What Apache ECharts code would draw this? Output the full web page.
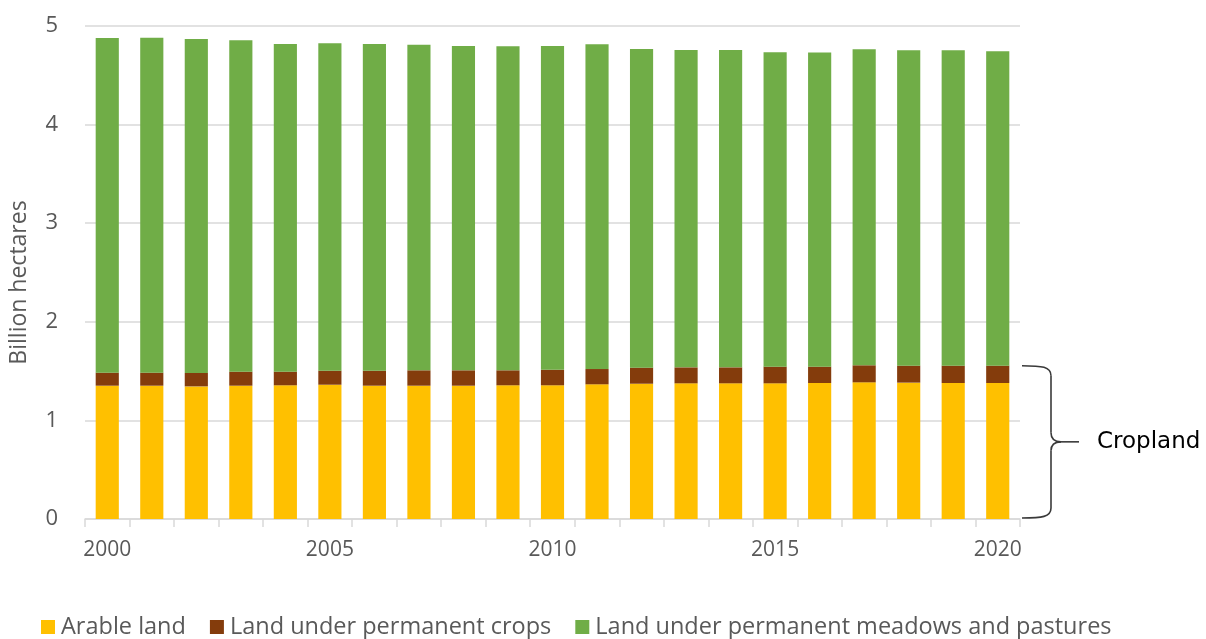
<!DOCTYPE html>
<html>
<head>
<meta charset="utf-8">
<title>Agricultural land use, 2000–2020</title>
<script src="https://cdn.jsdelivr.net/npm/echarts@6/dist/echarts.min.js"></script>
<style>
  html, body { margin: 0; padding: 0; background: #ffffff; }
  #chart { width: 1206px; height: 639px; }
</style>
</head>
<body>
<div id="chart"></div>
<script>
// Years on the category axis
const years = ['2000','2001','2002','2003','2004','2005','2006','2007','2008','2009','2010',
               '2011','2012','2013','2014','2015','2016','2017','2018','2019','2020'];

// Billion hectares per land-use class
const arableLand = [1.352,1.352,1.345,1.352,1.356,1.362,1.352,1.352,1.352,1.356,1.356,
                    1.366,1.372,1.376,1.376,1.376,1.379,1.386,1.383,1.379,1.379];
const permanentCrops = [0.132,0.132,0.136,0.142,0.138,0.142,0.152,0.156,0.156,0.152,0.158,
                        0.155,0.163,0.162,0.162,0.169,0.166,0.173,0.172,0.176,0.176];
const meadowsPastures = [3.394,3.397,3.387,3.361,3.323,3.320,3.313,3.302,3.289,3.286,3.283,
                         3.293,3.232,3.219,3.219,3.188,3.185,3.205,3.198,3.198,3.188];

const seriesNames = ['Arable land', 'Land under permanent crops', 'Land under permanent meadows and pastures'];
const yAxisTitle = 'Billion hectares';
const bracketLabel = 'Cropland';

const textGrey = '#595959';
const gridGrey = '#d9d9d9';
const font = '"Open Sans", "Noto Sans", sans-serif';

const gridLeft = 85, gridRight = 186, gridTop = 26, gridBottom = 120;

const chart = echarts.init(document.getElementById('chart'), null, { renderer: 'canvas' });

chart.setOption({
  animation: false,
  backgroundColor: '#ffffff',
  grid: { left: gridLeft, right: gridRight, top: gridTop, bottom: gridBottom, containLabel: false },
  legend: {
    left: 36,
    top: 610,
    itemWidth: 14,
    itemHeight: 14,
    itemGap: 24,
    icon: 'rect',
    textStyle: { color: textGrey, fontSize: 23.5, fontFamily: font, padding: [0, 0, 0, 1] },
    data: seriesNames
  },
  xAxis: {
    type: 'category',
    data: years,
    boundaryGap: true,
    axisLine: { show: true, lineStyle: { color: gridGrey, width: 1.5 } },
    axisTick: { show: true, alignWithLabel: false, interval: 0, length: 8, lineStyle: { color: gridGrey, width: 1.5 } },
    axisLabel: { interval: 4, color: textGrey, fontSize: 21, fontFamily: font, margin: 21 },
    splitLine: { show: false }
  },
  yAxis: {
    type: 'value',
    min: 0,
    max: 5,
    interval: 1,
    name: yAxisTitle,
    nameLocation: 'middle',
    nameRotate: 90,
    nameGap: 54,
    nameTextStyle: { color: textGrey, fontSize: 23, fontFamily: font, padding: [0, 20, 0, 0] },
    axisLine: { show: false },
    axisTick: { show: false },
    axisLabel: { color: textGrey, fontSize: 22, fontFamily: font, margin: 27 },
    splitLine: { show: true, lineStyle: { color: gridGrey, width: 1.5 } }
  },
  series: [
    { name: seriesNames[0], type: 'bar', stack: 'land', barWidth: '52%', data: arableLand,
      itemStyle: { color: '#FFC000' } },
    { name: seriesNames[1], type: 'bar', stack: 'land', barWidth: '52%', data: permanentCrops,
      itemStyle: { color: '#843C0C' } },
    { name: seriesNames[2], type: 'bar', stack: 'land', barWidth: '52%', data: meadowsPastures,
      itemStyle: { color: '#70AD47' } }
  ]
});

// Curly brace spanning cropland (arable + permanent crops) of the last year
const last = years.length - 1;
const croplandTop = arableLand[last] + permanentCrops[last];
const yT = chart.convertToPixel({ yAxisIndex: 0 }, croplandTop);
const yB = chart.convertToPixel({ yAxisIndex: 0 }, 0) - 1;
const yM = (yT + yB) / 2;
const x0 = chart.getWidth() - gridRight + 2;
const xs = x0 + 29;
const xt = x0 + 57;

const braceStyle = { stroke: '#3a3a3a', lineWidth: 1.6, fill: null };
const curve = (x1, y1, cx1, cy1, cx2, cy2, x2, y2) => ({
  type: 'bezierCurve', silent: true, style: braceStyle,
  shape: { x1: x1, y1: y1, cpx1: cx1, cpy1: cy1, cpx2: cx2, cpy2: cy2, x2: x2, y2: y2 }
});
const segment = (x1, y1, x2, y2) => ({
  type: 'line', silent: true, style: braceStyle,
  shape: { x1: x1, y1: y1, x2: x2, y2: y2 }
});

chart.setOption({
  graphic: [
    curve(x0, yT, x0 + 20, yT, xs, yT + 1, xs, yT + 10),
    segment(xs, yT + 10, xs, yM - 9),
    curve(xs, yM - 9, xs, yM - 2, xs + 4, yM, xs + 10, yM),
    segment(xs + 10, yM, xt, yM),
    curve(xs + 10, yM, xs + 4, yM, xs, yM + 2, xs, yM + 9),
    segment(xs, yM + 9, xs, yB - 10),
    curve(xs, yB - 10, xs, yB - 1, x0 + 20, yB, x0, yB),
    {
      type: 'text',
      x: xt + 18,
      y: yM,
      silent: true,
      style: {
        text: bracketLabel,
        fill: '#000000',
        font: '23px "DejaVu Sans", Verdana, sans-serif',
        verticalAlign: 'middle',
        align: 'left'
      }
    }
  ]
});
</script>
</body>
</html>
